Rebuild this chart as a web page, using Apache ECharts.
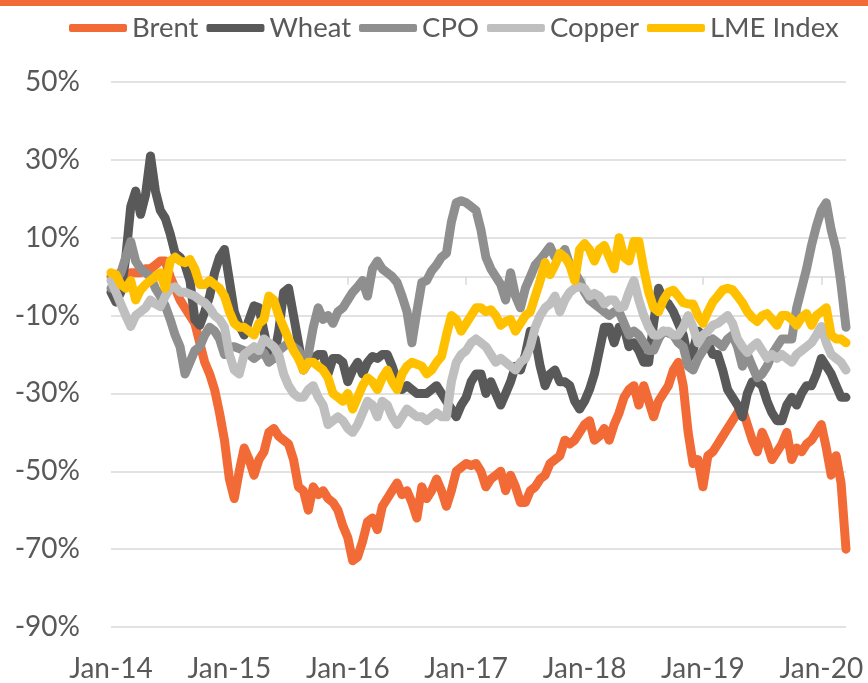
<!DOCTYPE html>
<html><head><meta charset="utf-8">
<script src="https://cdn.jsdelivr.net/npm/echarts@6/dist/echarts.min.js"></script>
<style>html,body{margin:0;padding:0;background:#fff}#c{width:868px;height:683px}</style>
</head><body><div id="c"></div>
<script>
// semi-monthly observation dates (1st and 16th), Jan-2014 .. Mar-2020
const dates = [];
for (let y = 2014; y <= 2020; y++) for (let m = 1; m <= 12; m++) for (const d of ['01', '16']) {
  if (dates.length < 150) dates.push(y + '-' + String(m).padStart(2, '0') + '-' + d);
}
const yTicks = [-90, -70, -50, -30, -10, 10, 30, 50];
const seriesNames = ['Brent', 'Wheat', 'CPO', 'Copper', 'LME Index'];
const colors = ['#F26A36', '#595959', '#8F8F8F', '#BFBFBF', '#FFC000'];

const brent = [0,0.5,1,0,1,1,1,2,2,3, 4,4,0,-3,-6,-8,-10,-12,-17,-22,
 -25,-29,-35,-42,-52,-57,-50,-44,-47,-51, -47,-45,-40,-39,-41,-42,-43,-47,-54,-55,
 -60,-54,-56,-55,-57,-58,-60,-64,-67,-73, -72,-68,-63,-62,-65,-59,-57,-55,-53,-56,
 -55,-58,-62,-54,-57,-55,-52,-55,-59,-55, -50,-49,-48,-48.5,-48,-50,-54,-52,-51,-50,
 -55,-51,-54,-58,-58,-55,-54,-52,-51,-48, -47,-46,-42,-43,-42,-40,-38,-37,-42,-41,
 -39,-42,-38,-35,-31,-29,-28,-33,-28,-32, -36,-32,-30,-28,-24,-22,-28,-40,-48,-47,
 -54,-46,-45,-43,-41,-39,-37,-35,-34,-38, -42,-45,-40,-43,-47,-45,-43,-40,-47,-44,
 -45,-43,-42,-40,-38,-44,-51,-46,-53,-70];

const wheat = [-4,-6.5,-4,5,18,22,16,21,31,22, 17,15,11,6,5,3,-1,-11,-12.5,-9,
 -5,1,5,7,-1,-9,-12.5,-15,-11,-7.5, -8,-14,-20,-21,-14,-4,-3,-10,-17,-24,
 -22,-21,-20,-20,-25,-21,-21,-22,-27,-24, -22,-25,-22,-20.5,-21,-20,-20,-23,-27,-29,
 -28,-29,-30,-30,-30,-29,-28,-30,-32,-34, -36,-33,-31,-27,-25,-25,-30,-27,-30,-33,
 -30,-27,-23,-24,-20,-14,-16,-23,-28,-25, -24,-27,-27,-28,-32,-34,-32,-29,-25,-19,
 -13,-13,-17,-13,-13,-18,-17,-19,-22,-22, -12,-3,-6,-7,-9,-12,-15,-21,-19,-14,
 -15,-17,-20,-20,-24,-29,-31,-33,-36,-30, -27,-27,-28,-32,-35,-37,-37,-33,-31,-33,
 -30,-28,-28,-25,-21,-23,-25,-28,-31,-31];

const cpo = [-3,-1,1,5,9,4,2,1,0,-3, -5,-7.5,-11,-15,-18,-25,-22,-19,-18,-15,
 -13,-14,-16,-20,-18,-18,-18.5,-19,-20,-21, -20,-19.5,-22,-21,-19,-18,-17,-18,-19,-21,
 -20,-13,-8,-11,-10,-12,-9,-8,-6,-4, -2.6,-1,-5,2,4,2,1,0,-1.5,-5,
 -9,-17,-9,-1.5,-1,1.5,3,5,6,14, 19,19.5,19,18,17,12,5,2,0,-2,
 -6,1,-5,-8,-3,0,3,4.4,6,7.7, 5,5,7,3,1,-1,-4,-6,-7,-8,
 -9,-10,-9,-9,-12,-15,-14,-15,-17,-19, -19,-16,-14,-14.5,-15,-17,-18,-23,-24,-21,
 -19,-17,-16,-17,-18,-16,-15,-18,-23,-20, -23,-26,-25,-23,-20,-18,-16,-16,-16,-8,
 -3,2,8,13,17,19,12,7,-2,-13];

const copper = [-1,-4,-7,-10,-12.8,-10,-9,-8,-6,-7, -7.7,-5,-3,-2.6,-4,-4,-4.5,-5,-6,-6.7,
 -8,-10,-11,-13,-20,-24,-25,-20,-19,-18, -19,-16,-17,-18,-20,-25,-28,-30,-31,-31,
 -29,-28,-31,-33,-38,-37,-36,-37,-39,-40, -38,-35,-32,-33,-36,-32,-33,-36,-38,-36,
 -34,-35,-36,-36,-37,-36,-35,-36,-36,-27, -22,-20,-19,-17,-16,-17,-18,-20,-22,-21,
 -22,-23,-24,-22,-21,-18,-13,-10,-8,-7, -5,-9,-6,-4,-3,-2.6,-3,-5,-4.3,-5,
 -7,-6,-6,-8,-7.7,-4,-1,-6,-10,-13, -15,-15,-14,-14,-15,-15,-13,-10,-13,-17,
 -15,-14,-12.5,-12,-11,-10,-12,-16,-18,-19.5, -18,-17,-19,-21,-20,-21,-20,-21,-22,-20,
 -19,-18,-17,-15,-12.8,-17,-20,-21,-22,-24];

const lme = [1,0.5,-2,-3,-1,-6,-3.4,-2,-1,0, 1,-3,4,5,4,3.6,4.4,2,-2,-2,
 -1,-2,-3,-5,-9,-12,-13,-13,-14,-15, -12,-11,-5,-6,-10,-13,-16,-19,-21,-24,
 -22,-22,-23,-24,-26,-30,-31,-32,-30,-34, -31,-28,-26,-27,-29,-26,-24,-27,-29,-25,
 -23,-22,-22.5,-23,-25,-24,-22,-20.5,-15,-10, -11,-14,-12,-10,-8,-8,-9,-8.5,-10,-12.5,
 -11.5,-11,-14,-12,-10,-9,-5,-1,3.6,0.5, 3,6,5,3,-1,7,8.5,7,4,7,
 8,5,2,10,5,4,9,9,2,-4, -8,-9,-6,-4,-3.5,-5,-6.7,-7,-7,-10,
 -12,-9,-6.5,-5,-3.4,-3,-3.4,-5,-6.7,-9, -10.5,-11.5,-10,-9.5,-11,-12.5,-10,-10,-11,-12.5,
 -10.5,-9.5,-12.5,-10,-9,-8,-15,-16,-16,-17];

const values = [brent, wheat, cpo, copper, lme];
const FONT = 'Lato, "Noto Sans", sans-serif';
const TXT = '#595959';
const GRID = '#D9D9D9';
const yearTick = (i) => i % 24 === 0;

const chart = echarts.init(document.getElementById('c'), null, { renderer: 'canvas' });
chart.setOption({
  animation: false,
  backgroundColor: '#fff',
  textStyle: { fontFamily: FONT },
  graphic: [{ type: 'rect', left: 0, top: 0, shape: { width: 868, height: 6 }, style: { fill: '#F26A36' }, z: 10 }],
  legend: {
    data: seriesNames, top: 9, left: 64, itemGap: 8, itemWidth: 58, itemHeight: 8,
    icon: 'roundRect',
    textStyle: { fontSize: 27.5, color: TXT, fontFamily: FONT }
  },
  grid: { left: 111, right: 22, top: 82, bottom: 55, containLabel: false },
  xAxis: [{
    type: 'category', data: dates, boundaryGap: false, position: 'bottom',
    axisLine: { show: false, onZero: false }, axisTick: { show: false },
    axisLabel: { interval: yearTick, formatter: (v) => 'Jan-' + v.slice(2, 4), fontSize: 28, color: TXT, margin: 28, fontFamily: FONT },
    splitLine: { show: false }
  }, {
    type: 'category', data: dates, boundaryGap: false, position: 'bottom',
    axisLine: { show: true, onZero: true, lineStyle: { color: GRID, width: 1.5 } },
    axisTick: { show: true, interval: yearTick, length: 8, lineStyle: { color: GRID, width: 1.5 } },
    axisLabel: { show: false }, splitLine: { show: false }
  }],
  yAxis: {
    type: 'value', min: yTicks[0], max: yTicks[yTicks.length - 1], interval: 20,
    axisLine: { show: false }, axisTick: { show: false },
    axisLabel: { formatter: (v) => v + '%', fontSize: 28, color: TXT, margin: 31, fontFamily: FONT },
    splitLine: { show: true, lineStyle: { color: GRID, width: 1.5 } }
  },
  series: seriesNames.map((n, k) => ({
    name: n, type: 'line', data: values[k], xAxisIndex: 0, showSymbol: false,
    itemStyle: { color: colors[k] },
    lineStyle: { width: 9, color: colors[k], cap: 'round', join: 'round' },
    emphasis: { disabled: true }, z: 2 + k
  }))
});
</script></body></html>
